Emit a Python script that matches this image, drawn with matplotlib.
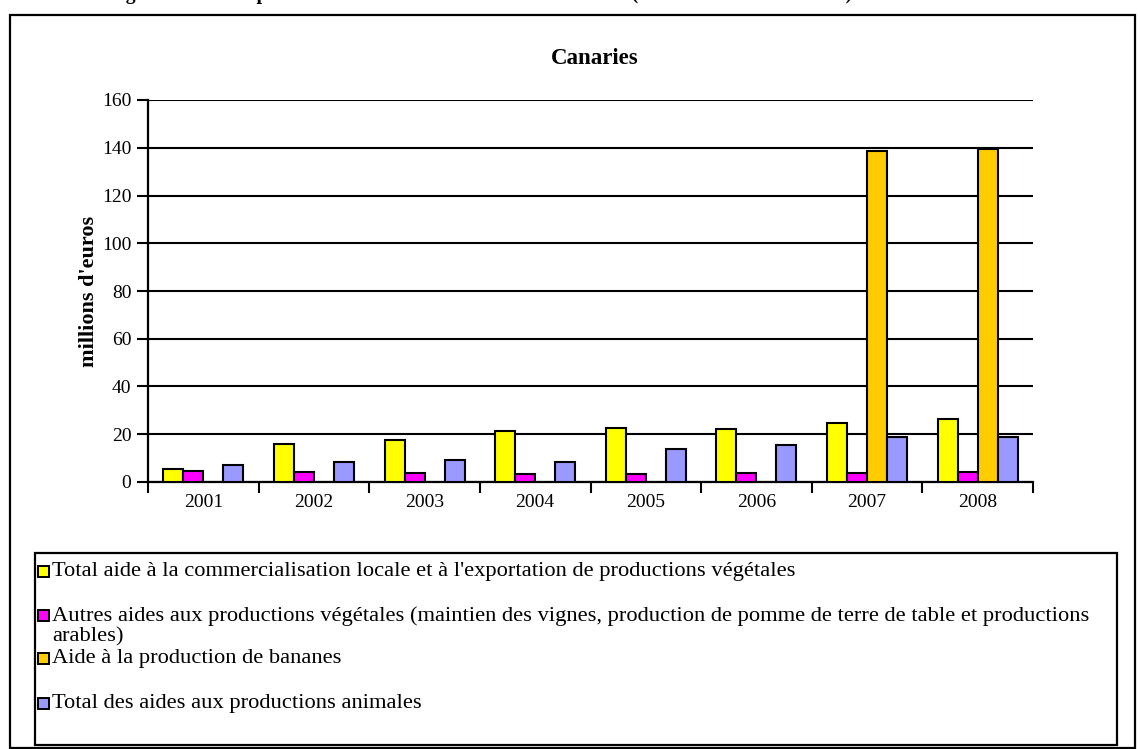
import numpy as np
import matplotlib.pyplot as plt
from matplotlib.patches import Rectangle

# ---------- données (millions d'euros) ----------
annees = ["2001", "2002", "2003", "2004", "2005", "2006", "2007", "2008"]

commercialisation = [5.6, 16.0, 17.7, 21.2, 22.6, 22.3, 24.8, 26.4]
autres_vegetales = [4.4, 4.1, 3.9, 3.3, 3.2, 3.6, 3.6, 4.2]
bananes = [np.nan, np.nan, np.nan, np.nan, np.nan, np.nan, 138.6, 139.4]
animales = [7.0, 8.4, 9.2, 8.4, 13.9, 15.3, 18.8, 18.8]

series = [commercialisation, autres_vegetales, bananes, animales]
couleurs = ["#FFFF00", "#FF00FF", "#FFCC00", "#9999FF"]
libelles = [
    "Total aide à la commercialisation locale et à l'exportation de productions végétales",
    "Autres aides aux productions végétales (maintien des vignes, production de pomme de terre de table et productions\narables)",
    "Aide à la production de bananes",
    "Total des aides aux productions animales",
]

titre_page = "Figure 12 : Aides par mesure aux Canaries entre 2001 et 2008 (aides en millions d'euros)"
titre = "Canaries"
ylabel = "millions d'euros"

plt.rcParams["font.family"] = ["Liberation Serif", "DejaVu Serif"]

W, H = 1140, 749
fig = plt.figure(figsize=(W / 100, H / 100), dpi=100)


def fx(px):
    return px / W


def fy(py):
    return 1 - py / H


# titre de page, coupé par le haut de l'image
fig.text(fx(108), fy(-1), titre_page, fontsize=14.2, fontweight="bold",
         va="baseline", ha="left")

# cadre du graphique
fig.patches.append(Rectangle((fx(10), fy(748)), fx(1135) - fx(10), fy(15) - fy(748),
                             transform=fig.transFigure, fill=False,
                             edgecolor="black", linewidth=1.6))

ax = fig.add_axes([fx(148), fy(482), fx(1033) - fx(148), fy(100) - fy(482)])

x = np.arange(len(annees))
w = 0.181
for i, (vals, c) in enumerate(zip(series, couleurs)):
    ax.bar(x + (i - 1.5) * w, vals, width=w, color=c, edgecolor="black",
           linewidth=1.5, zorder=3)

ax.set_xlim(-0.5, len(annees) - 0.5)
ax.set_ylim(0, 160)
ax.set_yticks(np.arange(0, 161, 20))
ax.yaxis.grid(True, color="black", linewidth=1.5)
ax.set_axisbelow(True)

ax.set_xticks(x)
ax.set_xticklabels(annees)
ax.set_xticks(np.arange(-0.5, len(annees)), minor=True)
ax.tick_params(axis="x", which="major", length=0, pad=9, labelsize=14)
ax.tick_params(axis="x", which="minor", length=8, width=1.5, direction="out")
ax.tick_params(axis="y", length=8, width=1.5, direction="out", pad=4, labelsize=14)

for s in ["top", "right"]:
    ax.spines[s].set_visible(False)
for s in ["left", "bottom"]:
    ax.spines[s].set_linewidth(1.6)

ax.set_ylabel(ylabel, fontsize=16, fontweight="bold", labelpad=2)
fig.text(fx(595), fy(58), titre, fontsize=16.5, fontweight="bold",
         ha="center", va="center")

# légende dessinée à la main (cadre + carrés + libellés)
fig.patches.append(Rectangle((fx(35), fy(745)), fx(1117) - fx(35), fy(553) - fy(745),
                             transform=fig.transFigure, fill=False,
                             edgecolor="black", linewidth=1.6))
rangs = [571, 615, 658, 703]
for lib, c, y in zip(libelles, couleurs, rangs):
    fig.patches.append(Rectangle((fx(38), fy(y + 6)), fx(11), fx(11) * W / H,
                                 transform=fig.transFigure, facecolor=c,
                                 edgecolor="black", linewidth=1.4))
    fig.text(fx(52), fy(y - 9), lib, fontsize=16.2, ha="left", va="top",
             linespacing=1.1)

fig.savefig("out.png", dpi=100)
